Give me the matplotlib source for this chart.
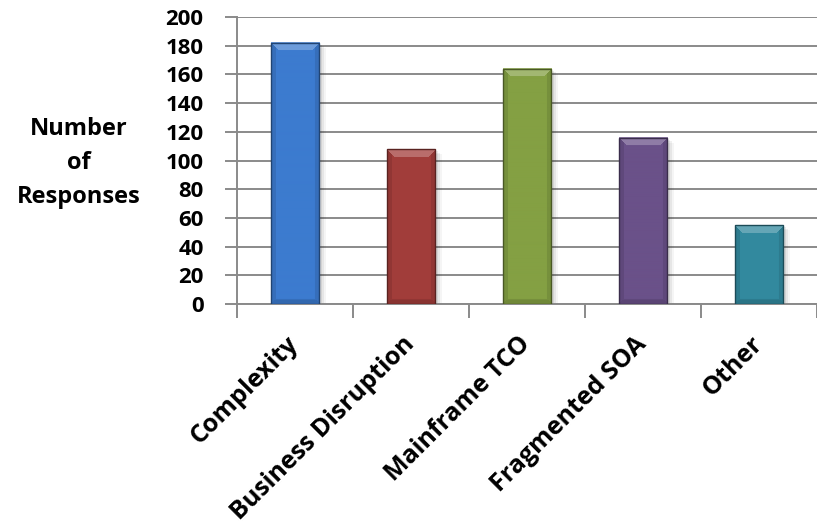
import numpy as np
import matplotlib
matplotlib.use("Agg")
import matplotlib.pyplot as plt
from matplotlib.patches import Rectangle

categories = ["Complexity", "Business Disruption", "Mainframe TCO",
              "Fragmented SOA", "Other"]
responses = [182, 108, 164, 116, 55]
bar_colors = ["#3c7bcf", "#a23d3a", "#84a043", "#6a5189", "#32899e"]
y_ticks = [0, 20, 40, 60, 80, 100, 120, 140, 160, 180, 200]

plt.rcParams['font.family'] = ['Open Sans', 'DejaVu Sans']
plt.rcParams['font.weight'] = 'bold'

fig = plt.figure(figsize=(8.17, 5.27), dpi=100)
ax = fig.add_axes([0.290, 0.4231, 0.710, 0.5446])
ax.set_xlim(-0.5, len(categories) - 0.5)
ax.set_ylim(0, 200)

grid_col = "#8a8a8a"
ax.set_yticks(y_ticks)
ax.yaxis.grid(True, color=grid_col, linewidth=1.4)
ax.set_axisbelow(True)
for s in ["top", "right"]:
    ax.spines[s].set_visible(False)
for s in ["left", "bottom"]:
    ax.spines[s].set_color(grid_col)
    ax.spines[s].set_linewidth(1.4)

ax.tick_params(axis="y", length=9, width=1.4, color=grid_col,
               labelsize=16, pad=15)
ax.set_xticks(range(len(categories)))
ax.set_xticks(np.arange(-0.5, len(categories), 1.0), minor=True)
ax.tick_params(axis="x", which="major", length=0, pad=26)
ax.tick_params(axis="x", which="minor", length=10, width=1.4, color=grid_col)
ax.set_xticklabels(categories, rotation=45, ha="right",
                   rotation_mode="anchor", fontsize=18, va="center")

fig.text(0.096, 0.69, "Number\nof\nResponses", ha="center", va="center",
         fontsize=17, fontweight="bold", linespacing=1.55)

bw = 0.42
bars = ax.bar(range(len(categories)), responses, width=bw,
              color="none", edgecolor="none", zorder=3)

fig.canvas.draw()
to_px = ax.transData


def shade(c, f):
    c = np.array(matplotlib.colors.to_rgb(c))
    if f >= 0:
        return c + (1 - c) * f
    return c * (1 + f)


for rect, col in zip(bars, bar_colors):
    x0, y0 = rect.get_x(), rect.get_y()
    x1, y1 = x0 + rect.get_width(), y0 + rect.get_height()
    (px0, py0), (px1, py1) = to_px.transform([(x0, y0), (x1, y1)])
    w = int(round(px1 - px0))
    h = int(round(py1 - py0))
    # soft shadow
    for k, a in [(5, 0.04), (3.5, 0.06), (2, 0.08)]:
        dx = k / (px1 - px0) * rect.get_width()
        dy = k / (py1 - py0) * rect.get_height()
        ax.add_patch(Rectangle((x0 + dx * 0.3, y0 - dy), rect.get_width() + dx,
                               rect.get_height(), facecolor="black",
                               alpha=a, edgecolor="none", zorder=2.5))
    xs = np.arange(w)[None, :] + 0.5
    ys = np.arange(h)[:, None] + 0.5  # from top
    d_left = xs
    d_right = w - xs
    d_top = ys
    d_bot = h - ys
    img = np.tile(shade(col, 0.0), (h, w, 1))
    dmin = np.minimum(np.minimum(d_left, d_right), np.minimum(d_top, d_bot))
    top_m = (d_top == dmin) & (dmin < 8)
    bot_m = (d_bot == dmin) & (dmin < 4)
    side_m = (dmin < 5) & ~top_m & ~bot_m
    img[top_m] = shade(col, 0.25)
    img[bot_m] = shade(col, -0.15)
    img[side_m] = shade(col, -0.10)
    ax.imshow(img, extent=(x0, x1, y0, y1), aspect="auto",
              interpolation="bilinear", zorder=3)
    ax.add_patch(Rectangle((x0, y0), rect.get_width(), rect.get_height(),
                           facecolor="none", edgecolor=shade(col, -0.45),
                           linewidth=1.0, zorder=4))

ax.set_xlim(-0.5, len(categories) - 0.5)
ax.set_ylim(0, 200)
fig.savefig("out.png", dpi=100)
